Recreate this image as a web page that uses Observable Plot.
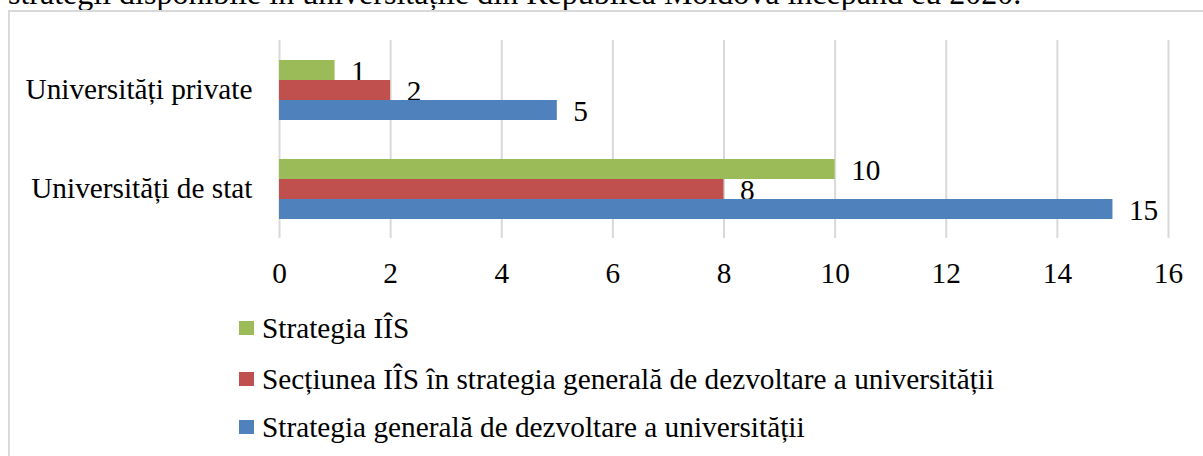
<!DOCTYPE html>
<html>
<head>
<meta charset="utf-8">
<script src="https://cdn.jsdelivr.net/npm/d3@7"></script>
<script src="https://cdn.jsdelivr.net/npm/@observablehq/plot@0.6"></script>
<style>
  html, body { margin: 0; padding: 0; background: #fff; width: 1203px; height: 456px; overflow: hidden; }
  body { position: relative; font-family: "Liberation Serif", "Times New Roman", serif; color: #000; }
  #topline { position: absolute; left: 8px; top: -23px; font-size: 32px; line-height: 32px; white-space: nowrap; }
  #box { position: absolute; left: 8px; top: 10px; width: 1300px; height: 600px; border: 2px solid #d9d9d9; box-sizing: border-box; }
  #chart { position: absolute; left: 0; top: 0; }
  #chart svg, #chart svg text { font-family: "Liberation Serif", "Times New Roman", serif !important; }
  .leg { position: absolute; left: 239px; height: 29px; display: flex; align-items: center; font-size: 29.3px; line-height: 29px; white-space: nowrap; }
  .sw { width: 15px; height: 14px; margin-right: 8px; flex: none; }
</style>
</head>
<body>
<div id="topline">strategii disponibile în universitățile din Republica Moldova începând cu 2020.</div>
<div id="box"></div>
<div id="chart"></div>
<div id="legend"></div>
<script>
const categories = ["Universități private", "Universități de stat"];
const seriesNames = [
  "Strategia IÎS",
  "Secțiunea IÎS în strategia generală de dezvoltare a universității",
  "Strategia generală de dezvoltare a universității"
];
const strategiaIIS = [1, 10];
const sectiuneaIIS = [2, 8];
const strategiaGenerala = [5, 15];
const seriesColors = ["#9BBB59", "#C0504D", "#4F81BD"];
const xTicks = [0, 2, 4, 6, 8, 10, 12, 14, 16];

const seriesValues = [strategiaIIS, sectiuneaIIS, strategiaGenerala];
const data = [];
categories.forEach((c, i) => {
  seriesNames.forEach((s, j) => {
    data.push({category: c, series: s, value: seriesValues[j][i]});
  });
});

const serif = "'Liberation Serif', 'Times New Roman', serif";
const chart = Plot.plot({
  width: 1203,
  height: 300,
  marginLeft: 279,
  marginRight: 35,
  marginTop: 40,
  marginBottom: 62,
  style: {background: "transparent", fontFamily: serif, color: "#000", overflow: "visible"},
  x: {domain: [0, 16]},
  y: {domain: seriesNames, paddingInner: 0, paddingOuter: 0.9, axis: null},
  fy: {domain: categories, padding: 0},
  color: {domain: seriesNames, range: seriesColors},
  marks: [
    Plot.gridX(xTicks, {stroke: "#d9d9d9", strokeOpacity: 1, strokeWidth: 2}),
    Plot.axisX(xTicks, {tickSize: 0, tickPadding: 24, fontSize: 29.3, fontFamily: serif, label: null, fill: "#000"}),
    Plot.axisFy({anchor: "left", tickSize: 0, tickPadding: 27, fontSize: 29.3, fontFamily: serif, label: null, fill: "#000"}),
    Plot.text(data, {x: "value", y: "series", fy: "category", text: d => String(d.value), dx: 16, dy: 1, textAnchor: "start", fontSize: 29.3, fontFamily: serif, fill: "#000"}),
    Plot.barX(data, {x: "value", y: "series", fy: "category", fill: "series"})
  ]
});
document.getElementById("chart").appendChild(chart);

const legend = document.getElementById("legend");
const legendCenters = [328, 379, 427];
seriesNames.forEach((s, j) => {
  const row = document.createElement("div");
  row.className = "leg";
  row.style.top = (legendCenters[j] - 14.5) + "px";
  const sw = document.createElement("span");
  sw.className = "sw";
  sw.style.background = seriesColors[j];
  const t = document.createElement("span");
  t.textContent = s;
  row.appendChild(sw);
  row.appendChild(t);
  legend.appendChild(row);
});
</script>
</body>
</html>
